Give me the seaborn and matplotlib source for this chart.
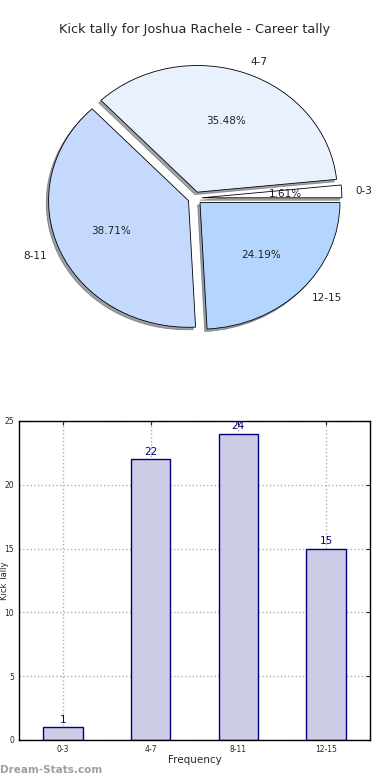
import matplotlib
matplotlib.use('Agg')
import matplotlib.pyplot as plt
import seaborn as sns

# kick tally per frequency band
bands = ['0-3', '4-7', '8-11', '12-15']
kicks = [1, 22, 24, 15]
pie_colors = ['#ffffff', '#eaf1fe', '#c5d9fe', '#b4d6fe']

sns.set_style('white')
plt.rcParams['font.family'] = ['DejaVu Sans']

fig = plt.figure(figsize=(3.9, 7.8), dpi=100)

# --- pie ---
ax_pie = fig.add_axes([0.0513, 0.543, 0.897, 0.406])
wedges, texts, autotexts = ax_pie.pie(
    kicks, labels=bands, colors=pie_colors, explode=[0.05] * len(kicks),
    autopct='%1.2f%%', shadow={'ox': -0.012, 'oy': -0.014, 'shade': 0.7},
    startangle=0, counterclock=True,
    wedgeprops={'edgecolor': 'black', 'linewidth': 0.6},
    textprops={'fontsize': 7.5, 'color': '#222222'},
)
ax_pie.set_aspect('auto')
ax_pie.set_xlim(-1.25, 1.25)
ax_pie.set_ylim(-1.25, 1.25)
ax_pie.axis('off')
fig.text(0.5, 1 - 30 / 780, 'Kick tally for Joshua Rachele - Career tally',
         ha='center', va='center', fontsize=9.3)

# --- bars ---
ax_bar = fig.add_axes([0.0487, 0.0513, 0.9, 0.409])
sns.barplot(x=bands, y=kicks, ax=ax_bar, color='#cccce6', saturation=1,
            edgecolor='#000080', linewidth=1.0, width=0.45)
for i, v in enumerate(kicks):
    ax_bar.text(i, v + 0.2, str(v), ha='center', va='bottom', color='#000080', fontsize=7.5)
ax_bar.set_xlim(-0.5, 3.5)
ax_bar.set_ylim(0, 25)
ax_bar.set_yticks([0, 5, 10, 15, 20, 25])
ax_bar.grid(True, linestyle=':', color='#b0b0b0', linewidth=1)
ax_bar.set_axisbelow(True)
ax_bar.tick_params(labelsize=5.5, direction='in', top=True, right=True, length=3)
for s in ax_bar.spines.values():
    s.set_color('black')
    s.set_linewidth(1)
ax_bar.set_xlabel('Frequency', fontsize=7.5, labelpad=1)
ax_bar.set_ylabel('Kick Tally', fontsize=6)
ax_bar.yaxis.set_label_coords(-0.028, 0.5)

fig.text(0.0, 1 - 770 / 780, 'Dream-Stats.com', ha='left', va='center',
         fontsize=7.5, color='#a0a0a0', fontweight='bold')

fig.savefig('out.png', dpi=100)
